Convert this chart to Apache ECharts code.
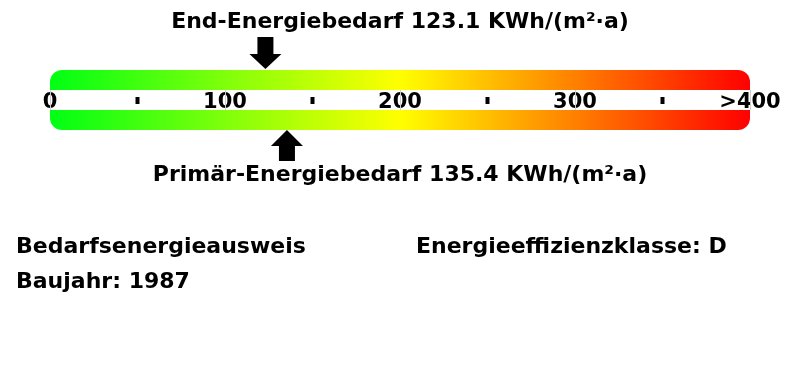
<!DOCTYPE html>
<html>
<head>
<meta charset="utf-8">
<script src="https://cdn.jsdelivr.net/npm/echarts@6/dist/echarts.min.js"></script>
<style>html,body{margin:0;padding:0;background:#fff}#c{width:800px;height:380px}</style>
</head>
<body>
<div id="c"></div>
<script>
// ---- data ----
var scaleMin = 0;
var scaleMax = 400;
var tickValues = [0, 100, 200, 300, 400];
var tickLabels = ['0', '100', '200', '300', '>400'];
var endEnergy = 123.1;      // End-Energiebedarf
var primaryEnergy = 135.4;  // Primär-Energiebedarf
var unit = 'KWh/(m²·a)';
var certType = 'Bedarfsenergieausweis';
var buildYear = 1987;
var efficiencyClass = 'D';
var gradientColors = ['#00ff14', '#ffff00', '#ff0000'];

var FONT = 'DejaVu Sans';
var chart = echarts.init(document.getElementById('c'), null, {renderer: 'canvas'});

function bandRender(params, api) {
  var a = api.coord([api.value(0), 60]);
  var b = api.coord([api.value(1), 40]);
  var c = api.coord([api.value(0), 20]);
  var d = api.coord([api.value(1), 0]);
  var grad = new echarts.graphic.LinearGradient(0, 0, 1, 0, [
    {offset: 0, color: gradientColors[0]},
    {offset: 0.5, color: gradientColors[1]},
    {offset: 1, color: gradientColors[2]}
  ]);
  return {
    type: 'group',
    children: [
      {type: 'rect', shape: {x: a[0], y: a[1], width: b[0] - a[0], height: b[1] - a[1], r: [12, 12, 0, 0]}, style: {fill: grad}},
      {type: 'rect', shape: {x: c[0], y: c[1], width: d[0] - c[0], height: d[1] - c[1], r: [0, 0, 12, 12]}, style: {fill: grad}}
    ]
  };
}

function gapLine(params, api) {
  var p = api.coord([api.value(0), 40]);
  var q = api.coord([api.value(0), 20]);
  var x = Math.round(p[0]) + 0.5;
  return {type: 'line', shape: {x1: x, y1: p[1], x2: x, y2: q[1]}, style: {stroke: '#cccccc', lineWidth: 1}};
}

function downArrow(params, api) {
  var p = api.coord([api.value(0), 60]);
  var x = p[0], tip = p[1] - 1;
  return {
    type: 'polygon',
    shape: {points: [[x, tip], [x - 16, tip - 15], [x - 8, tip - 15], [x - 8, tip - 32], [x + 8, tip - 32], [x + 8, tip - 15], [x + 16, tip - 15]]},
    style: {fill: '#000'}
  };
}
function upArrow(params, api) {
  var p = api.coord([api.value(0), 0]);
  var x = p[0], tip = p[1];
  return {
    type: 'polygon',
    shape: {points: [[x, tip], [x - 16, tip + 16], [x - 8, tip + 16], [x - 8, tip + 31], [x + 8, tip + 31], [x + 8, tip + 16], [x + 16, tip + 16]]},
    style: {fill: '#000'}
  };
}

var textStyle = {fontFamily: FONT, fontWeight: 'bold', fontSize: 22, fill: '#000'};

chart.setOption({
  animation: false,
  grid: {left: 50, right: 50, top: 70, bottom: 250},
  xAxis: [{
    type: 'value', min: scaleMin, max: scaleMax, interval: 100,
    position: 'bottom', offset: -40,
    axisLine: {show: false}, axisTick: {show: false},
    splitLine: {show: false},
    axisLabel: {
      show: true, margin: 2, color: '#000', fontFamily: FONT, fontWeight: 'bold', fontSize: 21,
      showMinLabel: true, showMaxLabel: true,
      formatter: function (v) { return tickLabels[tickValues.indexOf(v)]; }
    }
  }, {
    type: 'value', min: scaleMin, max: scaleMax, interval: 50,
    position: 'bottom', offset: -40,
    axisLine: {show: false}, axisTick: {show: false}, splitLine: {show: false},
    axisLabel: {
      show: true, margin: 7,
      formatter: function (v) { return (v % 100 === 50) ? '{d|}' : ''; },
      rich: {d: {width: 4, height: 7, backgroundColor: '#000'}}
    }
  }],
  yAxis: {type: 'value', min: 0, max: 60, show: false, splitLine: {show: false}},
  series: [
    {type: 'custom', renderItem: gapLine, data: tickValues.map(function (v) { return [v]; }), silent: true, z: 1},
    {type: 'custom', renderItem: bandRender, data: [[scaleMin, scaleMax]], silent: true},
    {type: 'custom', renderItem: downArrow, data: [[endEnergy]], silent: true},
    {type: 'custom', renderItem: upArrow, data: [[primaryEnergy]], silent: true}
  ],
  graphic: [
    {type: 'text', x: 400, y: 22, style: Object.assign({text: 'End-Energiebedarf ' + endEnergy.toFixed(1) + ' ' + unit, textAlign: 'center', textVerticalAlign: 'middle'}, textStyle)},
    {type: 'text', x: 400, y: 175, style: Object.assign({text: 'Primär-Energiebedarf ' + primaryEnergy.toFixed(1) + ' ' + unit, textAlign: 'center', textVerticalAlign: 'middle'}, textStyle)},
    {type: 'text', x: 16, y: 247, style: Object.assign({text: certType, textAlign: 'left', textVerticalAlign: 'middle'}, textStyle)},
    {type: 'text', x: 16, y: 282, style: Object.assign({text: 'Baujahr: ' + buildYear, textAlign: 'left', textVerticalAlign: 'middle'}, textStyle)},
    {type: 'text', x: 416, y: 247, style: Object.assign({text: 'Energieeffizienzklasse: ' + efficiencyClass, textAlign: 'left', textVerticalAlign: 'middle'}, textStyle)}
  ]
});
</script>
</body>
</html>
